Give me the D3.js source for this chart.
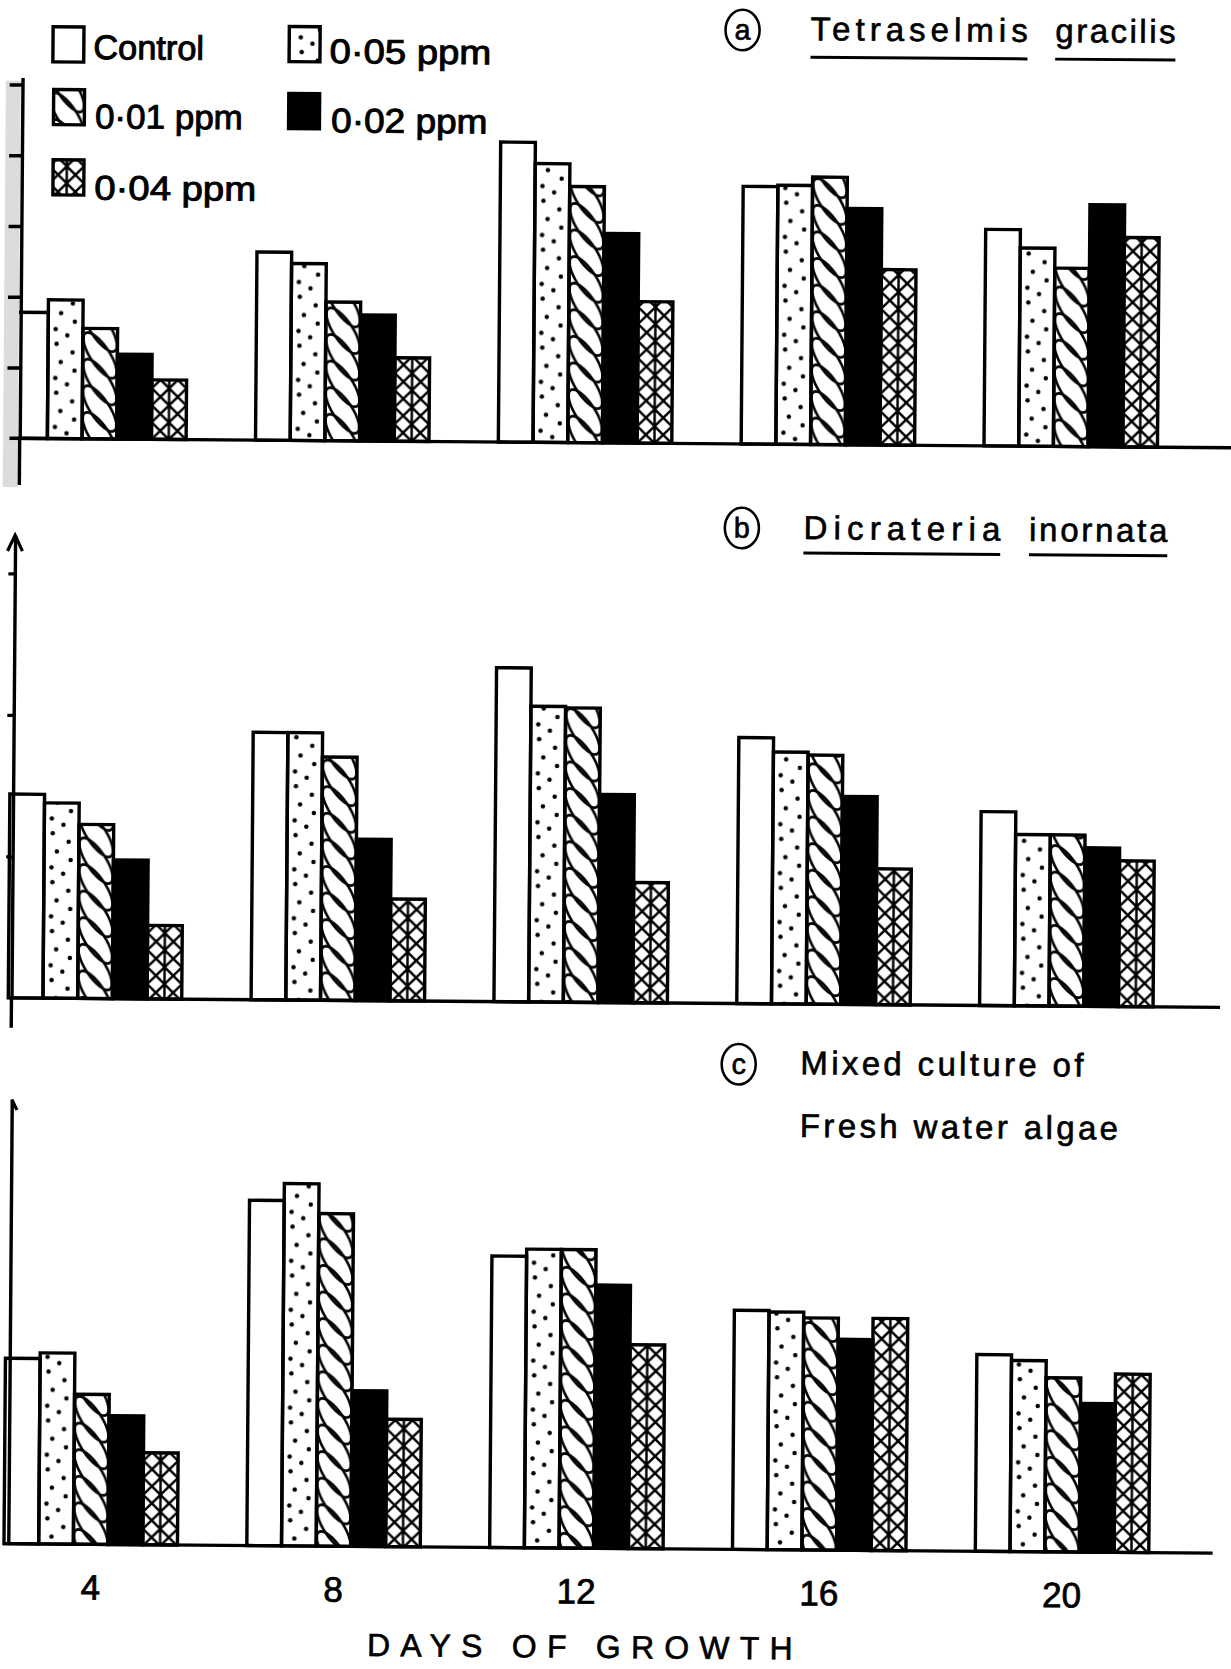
<!DOCTYPE html>
<html>
<head>
<meta charset="utf-8">
<script src="https://cdn.jsdelivr.net/npm/d3@7"></script>
<style>
	body { margin: 0; background: #fff; }
	text { font-family: "Liberation Sans", "DejaVu Sans", sans-serif; fill: #000; stroke: #000; }
</style>
</head>
<body>
<svg id="chart"></svg>
<script>
// growth days on the x axis, one group of bars per day
var days = [4, 8, 12, 16, 20];
var treatments = ["Control", "0·05 ppm", "0·01 ppm", "0·02 ppm", "0·04 ppm"];

// bar heights, relative units (1 unit = one tick of panel b)
// rows follow days, columns follow treatments
var tetraselmis = [
	[0.89, 0.98, 0.78, 0.60, 0.42],
	[1.33, 1.25, 0.98, 0.89, 0.59],
	[2.12, 1.97, 1.81, 1.48, 1.00],
	[1.82, 1.83, 1.89, 1.67, 1.24],
	[1.53, 1.40, 1.26, 1.71, 1.48]
];
var dicrateria = [
	[1.44, 1.38, 1.23, 0.98, 0.52],
	[1.89, 1.89, 1.72, 1.14, 0.72],
	[2.36, 2.09, 2.08, 1.47, 0.85],
	[1.88, 1.78, 1.76, 1.47, 0.96],
	[1.37, 1.21, 1.21, 1.12, 1.03]
];
var mixedCulture = [
	[1.31, 1.35, 1.06, 0.91, 0.65],
	[2.44, 2.56, 2.35, 1.10, 0.90],
	[2.06, 2.11, 2.11, 1.86, 1.44],
	[1.69, 1.68, 1.64, 1.49, 1.64],
	[1.39, 1.35, 1.23, 1.05, 1.26]
];
var panelLetters = ["a", "b", "c"];
var panelTitles = [
	["Tetraselmis", "gracilis"],
	["Dicrateria", "inornata"],
	["Mixed culture of", "Fresh water algae"]
];
var xTitle = "DAYS OF GROWTH";

var W = 1157, H = 1568, unit = 133;
var fills = ["#fff", "url(#stipple)", "url(#rope)", "#000", "url(#lattice)"];

var svg = d3.select("#chart")
	.attr("width", 1231).attr("height", 1669)
	.attr("viewBox", "0 0 " + W + " " + H);
svg.append("rect").attr("width", W).attr("height", H).attr("fill", "#fff");

// the scanned page sits a little crooked
var page = svg.append("g").attr("transform", "rotate(0.45 578 784)");

var x0 = d3.scaleBand().domain(days).range([9, 1085]).paddingInner(2 / 7).paddingOuter(0);
var x1 = d3.scaleBand().domain(treatments).range([0, x0.bandwidth()]);
var bw = x1.bandwidth();

// fill patterns
var defs = svg.append("defs");
var stipple = defs.append("pattern").attr("id", "stipple").attr("patternUnits", "userSpaceOnUse")
	.attr("x", 9).attr("y", 0).attr("width", bw).attr("height", 46);
stipple.selectAll("circle")
	.data([[8, 5], [23, 13], [12, 22], [25, 30], [7, 37], [18, 43]])
	.join("circle")
	.attr("cx", function (d) { return d[0]; })
	.attr("cy", function (d) { return d[1]; })
	.attr("r", 2.1).attr("fill", "#000");

var rope = defs.append("pattern").attr("id", "rope").attr("patternUnits", "userSpaceOnUse")
	.attr("x", 9).attr("y", 0).attr("width", bw).attr("height", 25);
rope.selectAll("ellipse").data([-12.5, 12.5, 37.5]).join("ellipse")
	.attr("cx", bw / 2).attr("cy", function (d) { return d; })
	.attr("rx", 25).attr("ry", 9)
	.attr("transform", function (d) { return "rotate(56 " + bw / 2 + " " + d + ")"; })
	.attr("fill", "none").attr("stroke", "#000").attr("stroke-width", 2.4);

var lh = 16;
var lattice = defs.append("pattern").attr("id", "lattice").attr("patternUnits", "userSpaceOnUse")
	.attr("x", 9).attr("y", 0).attr("width", bw).attr("height", lh);
lattice.append("path")
	.attr("d", "M0,0L" + bw / 2 + "," + lh + "M" + bw / 2 + ",0L0," + lh +
		"M" + bw / 2 + ",0L" + bw + "," + lh + "M" + bw + ",0L" + bw / 2 + "," + lh +
		"M" + bw / 2 + ",0V" + lh)
	.attr("fill", "none").attr("stroke", "#000").attr("stroke-width", 2.3);

var panels = [
	{ data: tetraselmis, yMax: 2.55, base: 416, axisX: 15.6, axisEnd: 460, ticks: [0.5, 1, 1.5, 2, 2.5], tickSize: 12, arrow: "none", lineStart: 6, lineEnd: 1170,
		circle: [692, 27], lines: [{ x: 756, y: 36, len: 204, ul: 52 }, { x: 986, y: 36, len: 113, ul: 52 }] },
	{ data: dicrateria, yMax: 3.27, base: 942, axisX: 12, axisEnd: 970, ticks: [1, 2, 3], tickSize: 6, arrow: "full", lineStart: 10, lineEnd: 1148,
		circle: [695, 495], lines: [{ x: 753, y: 505, len: 185, ul: 518 }, { x: 965, y: 505, len: 130, ul: 518 }] },
	{ data: mixedCulture, yMax: 3.14, base: 1455, axisX: 13, axisEnd: 1455, ticks: [], tickSize: 0, arrow: "half", lineStart: 8, lineEnd: 1145,
		circle: [696, 999], lines: [{ x: 754, y: 1008, len: 266 }, { x: 754, y: 1067, len: 299 }] }
];

panels.forEach(function (p, pi) {
	var y = d3.scaleLinear().domain([0, p.yMax]).range([p.base, p.base - p.yMax * unit]);
	var g = page.append("g").attr("class", "panel");

	var rows = [];
	p.data.forEach(function (row, i) {
		row.forEach(function (v, k) {
			rows.push({ day: days[i], t: treatments[k], k: k, v: v });
		});
	});
	g.selectAll("rect.bar").data(rows).join("rect")
		.attr("class", "bar")
		.attr("x", function (d) { return x0(d.day) + x1(d.t); })
		.attr("y", function (d) { return y(d.v); })
		.attr("width", bw)
		.attr("height", function (d) { return y(0) - y(d.v); })
		.attr("fill", function (d) { return fills[d.k]; })
		.attr("stroke", "#000").attr("stroke-width", 3.2);

	if (pi === 0) {
		// grey scanner edge on the first panel
		g.append("rect").attr("x", 0).attr("y", 80).attr("width", 14).attr("height", 382).attr("fill", "#dcdcdc");
	}

	var axis = d3.axisLeft(y).tickValues(p.ticks).tickSize(p.tickSize).tickSizeOuter(0).tickFormat("");
	var ag = g.append("g").attr("transform", "translate(" + p.axisX + ",0)").call(axis);
	ag.selectAll("path, line").attr("stroke", "#000").attr("stroke-width", 3.2);
	g.append("line")
		.attr("x1", p.axisX).attr("x2", p.axisX).attr("y1", p.base).attr("y2", p.axisEnd)
		.attr("stroke", "#000").attr("stroke-width", 3.2);
	var ty = y.range()[1], ax = p.axisX;
	if (p.arrow === "full") {
		g.append("path").attr("d", "M" + (ax - 7) + "," + (ty + 15) + "L" + ax + "," + ty + "L" + (ax + 7) + "," + (ty + 15))
			.attr("fill", "none").attr("stroke", "#000").attr("stroke-width", 3);
	} else if (p.arrow === "half") {
		g.append("path").attr("d", "M" + ax + "," + ty + "L" + (ax + 5) + "," + (ty + 10))
			.attr("fill", "none").attr("stroke", "#000").attr("stroke-width", 3);
	}
	g.append("line")
		.attr("x1", p.lineStart).attr("x2", p.lineEnd).attr("y1", p.base).attr("y2", p.base)
		.attr("stroke", "#000").attr("stroke-width", 3.2);

	// panel title
	g.append("ellipse").attr("cx", p.circle[0]).attr("cy", p.circle[1]).attr("rx", 16).attr("ry", 19)
		.attr("fill", "none").attr("stroke", "#000").attr("stroke-width", 2.4);
	g.append("text").attr("x", p.circle[0]).attr("y", p.circle[1] + 9).attr("text-anchor", "middle")
		.attr("font-size", 27).attr("stroke-width", 0.6).text(panelLetters[pi]);
	p.lines.forEach(function (l, li) {
		g.append("text").attr("x", l.x).attr("y", l.y).attr("font-size", 31).attr("stroke-width", 0.6)
			.attr("textLength", l.len).attr("lengthAdjust", "spacing")
			.text(panelTitles[pi][li]);
		if (l.ul) {
			g.append("line").attr("x1", l.x).attr("x2", l.x + l.len).attr("y1", l.ul).attr("y2", l.ul)
				.attr("stroke", "#000").attr("stroke-width", 2.8);
		}
	});
});

// legend
var legendPos = [
	{ bx: 44, by: 29, tx: 82, ty: 59, len: 104 },
	{ bx: 266, by: 27, tx: 304, ty: 61, len: 152 },
	{ bx: 45, by: 88, tx: 84, ty: 124, len: 139 },
	{ bx: 266, by: 90, tx: 306, ty: 126, len: 147 },
	{ bx: 45, by: 154, tx: 84, ty: 191, len: 152 }
];
var legend = page.append("g").attr("class", "legend");
var items = legend.selectAll("g").data(treatments).join("g");
items.append("rect")
	.attr("x", function (d, i) { return legendPos[i].bx; })
	.attr("y", function (d, i) { return legendPos[i].by; })
	.attr("width", 29).attr("height", 33)
	.attr("fill", function (d, i) { return fills[i]; })
	.attr("stroke", "#000").attr("stroke-width", 3.2);
items.append("text")
	.attr("x", function (d, i) { return legendPos[i].tx; })
	.attr("y", function (d, i) { return legendPos[i].ty; })
	.attr("font-size", 32).attr("stroke-width", 0.9)
	.attr("textLength", function (d, i) { return legendPos[i].len; })
	.attr("lengthAdjust", "spacingAndGlyphs")
	.text(function (d) { return d; });

// x axis labels under the bottom panel
page.append("g").selectAll("text").data(days).join("text")
	.attr("x", function (d) { return x0(d) + x0.bandwidth() / 2; })
	.attr("y", 1507)
	.attr("text-anchor", "middle")
	.attr("font-size", 33).attr("stroke-width", 0.7)
	.text(function (d) { return d; });
page.append("text").attr("x", 351).attr("y", 1558).attr("font-size", 30).attr("stroke-width", 0.6)
	.attr("textLength", 400).attr("lengthAdjust", "spacing")
	.text(xTitle);
</script>
</body>
</html>
